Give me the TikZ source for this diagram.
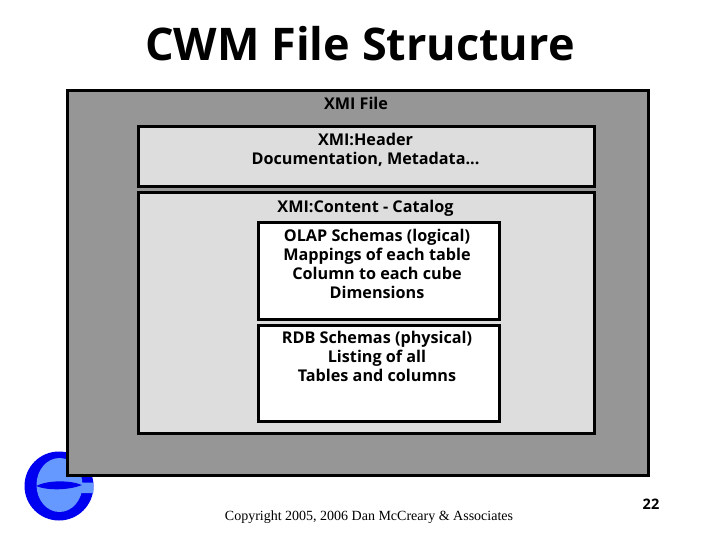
\documentclass[tikz,border=0pt]{standalone}
\usepackage{fontspec}
\setmainfont{Open Sans}
\newfontfamily\serifcopy{Liberation Serif}
\definecolor{outergray}{HTML}{969696}
\definecolor{innergray}{HTML}{DDDDDD}
\definecolor{logoblue}{HTML}{0000F0}
\definecolor{logolight}{HTML}{6699FF}
\tikzset{
  panel/.style={draw=black,line width=3pt,inner sep=0pt,anchor=north west},
  label/.style={font=\fontsize{16.2pt}{19pt}\selectfont\bfseries,align=center,text=black,inner sep=0pt,anchor=north}
}
\begin{document}
\begin{tikzpicture}[x=1pt,y=-1pt]
\useasboundingbox (0,0) rectangle (720,540);
\fill[white] (0,0) rectangle (720,540);
% logo
\fill[logoblue] (59,486) circle (34.5);
\fill[logolight] (59.5,485) ellipse (23 and 27);
\fill[logolight] (70,483) -- (93,482.5) -- (93.5,493) -- (70,493) -- cycle;
\fill[logoblue] (36,486) .. controls (48,480) and (70,480) .. (82,485) .. controls (70,490) and (48,491) .. (36,486) -- cycle;
% panels
\node[panel,fill=outergray,minimum width=581pt,minimum height=384pt] (file) at (65.5,89.5) {};
\node[panel,fill=innergray,minimum width=456pt,minimum height=60pt] (header) at (137,125.5) {};
\node[panel,fill=innergray,minimum width=456pt,minimum height=240pt] (content) at (137,191.5) {};
\node[panel,fill=white,minimum width=241pt,minimum height=96pt] (olap) at (257,221.5) {};
\node[panel,fill=white,minimum width=241pt,minimum height=96pt] (rdb) at (257,323.5) {};
% texts
\node[font=\fontsize{45pt}{50pt}\selectfont\bfseries,inner sep=0pt] (title) at (360,44) {CWM File Structure};
\node[label] (filet) at (356,97) {XMI File};
\node[label] (headert) at (365.5,133) {XMI:Header\\Documentation, Metadata...};
\node[label] (contentt) at (365.5,199.5) {XMI:Content - Catalog};
\node[label] (olapt) at (377,229) {OLAP Schemas (logical)\\Mappings of each table\\Column to each cube\\Dimensions};
\node[label] (rdbt) at (377,331) {RDB Schemas (physical)\\Listing of all\\Tables and columns};
\node[font=\serifcopy\fontsize{14pt}{16pt}\selectfont,inner sep=0pt] (copy) at (369,517.5) {Copyright 2005, 2006 Dan McCreary \& Associates};
\node[font=\fontsize{14.5pt}{16pt}\selectfont\bfseries,inner sep=0pt] (page) at (651,504) {22};
\end{tikzpicture}
\end{document}
